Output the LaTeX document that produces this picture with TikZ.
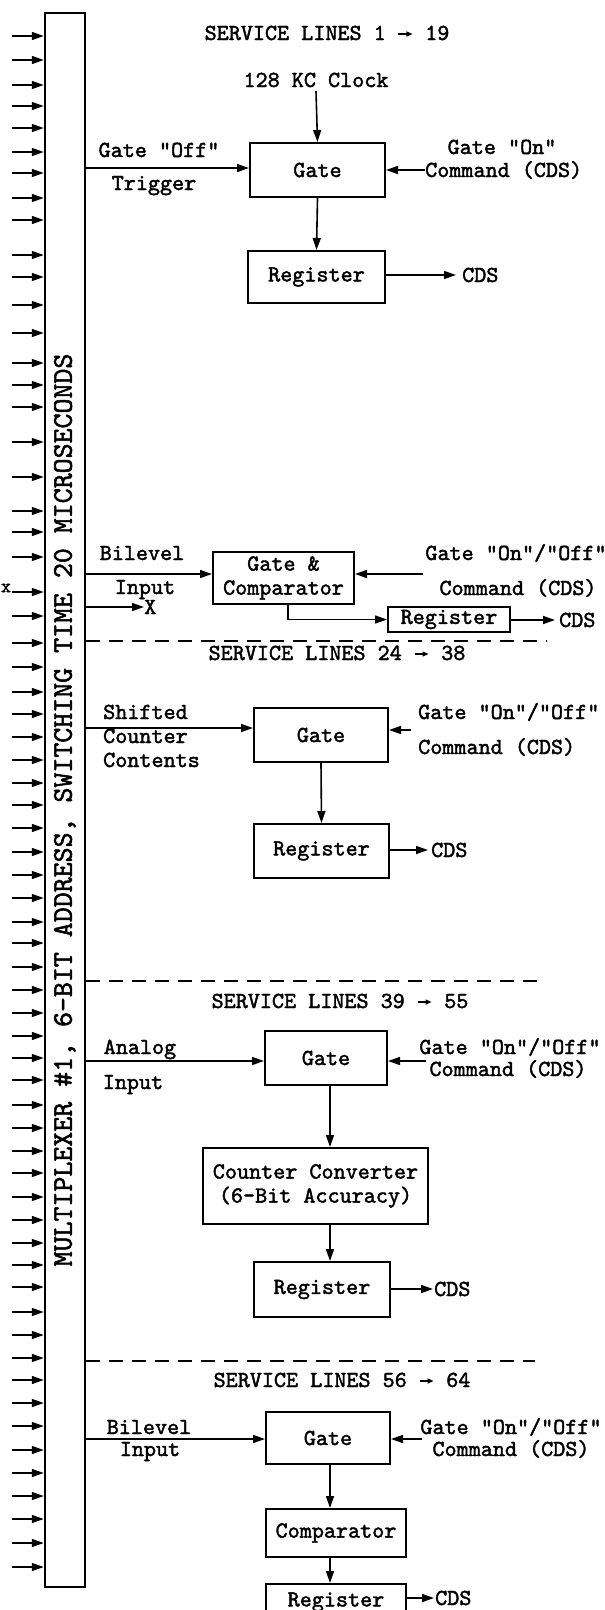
\documentclass[tikz,border=0pt]{standalone}
\usepackage{fontspec}
\usetikzlibrary{arrows.meta}
\newfontfamily\twfont{lmmono10-regular.otf}[FakeBold=1.8]
\newcommand\tw{\twfont\fontsize{23}{24}\selectfont}
\newcommand\twbig{\twfont\fontsize{28.5}{30}\selectfont}
\newcommand\twsmall{\twfont\fontsize{19}{20}\selectfont}
\newcommand\sarr{\tikz[baseline=-6pt]\draw[line width=1.3pt,-{Triangle[length=6pt,width=5pt]}] (0pt,0pt) -- (14pt,0pt);}
\begin{document}
\begin{tikzpicture}[x=1pt,y=-1pt,
  >={Triangle[length=12pt,width=8pt]},
  conn/.style={line width=1.6pt,->},
  bx/.style={draw,line width=2pt,inner sep=0pt,font=\tw,align=center},
  lab/.style={font=\tw,inner sep=0pt,text height=14pt,text depth=0pt},
  divline/.style={line width=1.4pt,dash pattern=on 14pt off 9pt}]
\useasboundingbox (0,0) rectangle (605,1610);

% multiplexer
\node[draw,line width=2.5pt,minimum width=40pt,minimum height=1574pt,inner sep=0pt] (mux) at (65,800) {};
\node[rotate=90,font=\twbig,inner sep=0pt,text height=17.5pt,text depth=0pt] (muxt) at (63,810)
  {MULTIPLEXER \#1, 6-BIT ADDRESS, SWITCHING TIME 20 MICROSECONDS};
\foreach \yy [count=\i] in {36,60,85,106,128,152,173,198,220,255,277,305,333,363,385,407,442,477,511,532,557,592,616,643,667,692,714,737,760,783,805,828,852,875,898,922,943,967,990,1013,1036,1058,1080,1105,1128,1151,1173,1197,1220,1243,1265,1287,1312,1335,1358,1380,1403,1426,1450,1473,1496,1519,1543,1567}{
  \coordinate (in\i) at (12,\yy);
  \draw[conn] (in\i) -- (in\i -| mux.west);
}
\node[font=\twsmall,inner sep=0pt] (xm) at (6,588) {x};

% ---------- section 1
\node[lab] (svc1) at (327,33) {SERVICE LINES 1 \sarr{} 19};
\node[lab] (clk) at (316,80) {128 KC Clock};
\node[bx,minimum width=135pt,minimum height=54pt] (g1) at (317.5,170) {Gate};
\node[bx,minimum width=137pt,minimum height=52pt] (r1) at (316.5,277) {Register};
\node[lab] (off1) at (159,150) {Gate "Off"};
\node[lab] (trig) at (154,183) {Trigger};
\node[lab] (on1) at (502,147) {Gate "On"};
\node[lab,anchor=west] (cmd1) at (425,170) {Command (CDS)};
\node[lab,anchor=west] (cds1) at (462,275) {CDS};
\coordinate (a1) at (200,168);
\draw[conn] (clk.south) ++(0,4) -- (g1.north);
\draw[conn] (mux.east |- a1) -- (a1 -| g1.west);
\draw[conn] (cmd1.west) -- (cmd1.west -| g1.east);
\draw[conn] (g1.south) -- (r1.north);
\draw[conn,shorten >=6pt] (r1.east |- cds1.west) -- (cds1.west);

% ---------- section 2
\node[bx,minimum width=141pt,minimum height=52pt] (gc) at (283.5,578) {Gate \&\\Comparator};
\node[bx,minimum width=122pt,minimum height=25pt] (r2) at (449,619.5) {Register};
\node[lab] (bil2) at (142,553) {Bilevel};
\node[lab] (inp2) at (145,587) {Input};
\node[lab,anchor=west] (xo) at (144,607) {X};
\node[lab] (on2) at (516,553) {Gate "On"/"Off"};
\node[lab] (cmd2) at (518,588) {Command (CDS)};
\node[lab,anchor=west] (cds2) at (559,620) {CDS};
\coordinate (a2) at (200,574);
\coordinate (c2) at (423,574);
\coordinate (v2) at (288,600);
\draw[conn] (mux.east |- a2) -- (a2 -| gc.west);
\draw[conn] (mux.east |- xo.west) -- (xo.west);
\draw[conn] (c2) -- (c2 -| gc.east);
\draw[conn] (v2 |- gc.south) |- (r2.west);
\draw[conn,shorten >=4pt] (r2.east |- cds2.west) -- (cds2.west);
\coordinate (d1) at (547,641);
\draw[divline] (mux.east |- d1) -- (d1);
\node[lab] (svc2) at (337,653) {SERVICE LINES 24 \sarr{} 38};

% ---------- section 3
\node[bx,minimum width=134pt,minimum height=54pt] (g3) at (321,735) {Gate};
\node[bx,minimum width=135pt,minimum height=54pt] (r3) at (321.5,851) {Register};
\node[lab,anchor=west] (sh3) at (103,712) {Shifted};
\node[lab,anchor=west] (co3) at (103,736) {Counter};
\node[lab,anchor=west] (ct3) at (103,760) {Contents};
\node[lab,anchor=west] (on3) at (418,712) {Gate "On"/"Off"};
\node[lab,anchor=west] (cmd3) at (418,747) {Command (CDS)};
\node[lab,anchor=west] (cds3) at (431,850) {CDS};
\coordinate (a3) at (200,728);
\coordinate (c3) at (411,730);
\draw[conn] (mux.east |- a3) -- (a3 -| g3.west);
\draw[conn] (c3) -- (c3 -| g3.east);
\draw[conn] (g3.south) -- (r3.north);
\draw[conn,shorten >=3pt] (r3.east |- cds3.west) -- (cds3.west);
\coordinate (d2) at (544,981);
\draw[divline] (mux.east |- d2) -- (d2);
\node[lab] (svc3) at (340,1001) {SERVICE LINES 39 \sarr{} 55};

% ---------- section 4
\node[bx,minimum width=122pt,minimum height=54pt] (g4) at (326,1058) {Gate};
\node[bx,minimum width=225pt,minimum height=76pt] (cc) at (315.5,1186) {Counter Converter\\(6-Bit Accuracy)};
\node[bx,minimum width=136pt,minimum height=55pt] (r4) at (322,1289.5) {Register};
\node[lab] (an4) at (140,1047) {Analog};
\node[lab] (inp4) at (133,1082) {Input};
\node[lab] (on4) at (510,1047) {Gate "On"/"Off"};
\node[lab] (cmd4) at (508,1069) {Command (CDS)};
\node[lab,anchor=west] (cds4) at (434,1289) {CDS};
\coordinate (a4) at (200,1061);
\coordinate (c4) at (426,1061);
\coordinate (v4) at (330,1100);
\draw[conn] (mux.east |- a4) -- (a4 -| g4.west);
\draw[conn] (c4) -- (c4 -| g4.east);
\draw[conn] (v4 |- g4.south) -- (v4 |- cc.north);
\draw[conn] (v4 |- cc.south) -- (v4 |- r4.north);
\draw[conn,shorten >=1pt] (r4.east |- cds4.west) -- (cds4.west);
\coordinate (d3) at (535,1361);
\draw[divline] (mux.east |- d3) -- (d3);
\node[lab] (svc4) at (342,1380) {SERVICE LINES 56 \sarr{} 64};

% ---------- section 5
\node[bx,minimum width=124pt,minimum height=52pt] (g5) at (328,1438) {Gate};
\node[bx,minimum width=140pt,minimum height=48pt] (cmp) at (336,1533) {Comparator};
\node[bx,minimum width=140pt,minimum height=36pt] (r5) at (336,1602) {Register};
\node[lab] (bil5) at (149,1427) {Bilevel};
\node[lab] (inp5) at (150,1449) {Input};
\node[lab] (on5) at (511,1427) {Gate "On"/"Off"};
\node[lab] (cmd5) at (511,1449) {Command (CDS)};
\node[lab,anchor=west] (cds5) at (435,1598) {CDS};
\coordinate (a5) at (200,1439);
\coordinate (c5) at (422,1439);
\coordinate (v5) at (330,1480);
\draw[conn] (mux.east |- a5) -- (a5 -| g5.west);
\draw[conn] (c5) -- (c5 -| g5.east);
\draw[conn] (v5 |- g5.south) -- (v5 |- cmp.north);
\draw[conn] (v5 |- cmp.south) -- (v5 |- r5.north);
\draw[conn,shorten >=1pt] (r5.east |- cds5.west) -- (cds5.west);
\end{tikzpicture}
\end{document}
